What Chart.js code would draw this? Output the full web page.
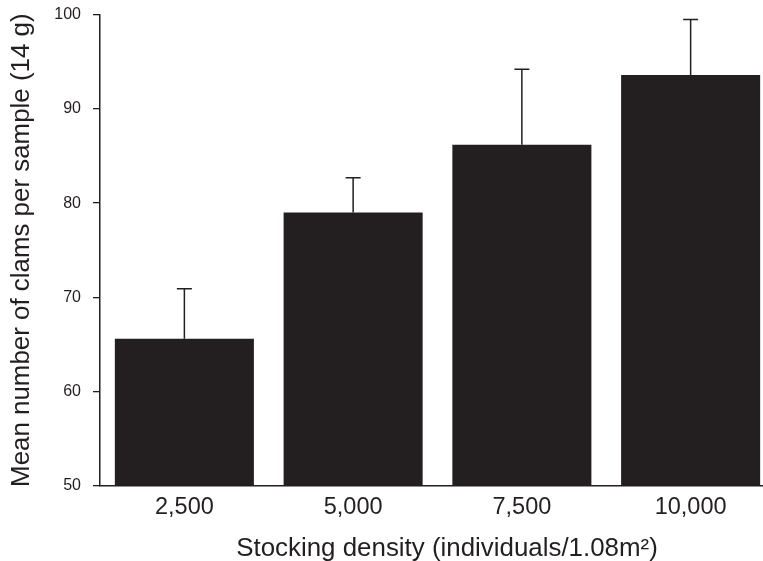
<!DOCTYPE html>
<html>
<head>
<meta charset="utf-8">
<script src="https://cdn.jsdelivr.net/npm/chart.js@4"></script>
<style>
  html, body { margin: 0; padding: 0; width: 763px; height: 561px; overflow: hidden; background: #fff; }
  #wrap { position: absolute; left: 0; top: 0; width: 776px; height: 561px; }
</style>
</head>
<body>
<div id="wrap"><canvas id="chart" width="776" height="561"></canvas></div>
<script>
// Stocking densities (individuals per 1.08 m²)
const densities = ['2,500', '5,000', '7,500', '10,000'];
// Mean number of clams per 14 g sample
const meanClams = [65.6, 79.0, 86.2, 93.6];
// Upper error (added above each mean)
const upperError = [5.3, 3.7, 8.0, 5.9];
// Y axis range and step
const yMin = 50, yMax = 100, yStep = 10;

const INK = '#231f20';
const FAMILY = '"Liberation Sans", Arial, sans-serif';

// Draws one-sided error bars (stem + cap) above each bar
const errorBars = {
  id: 'errorBars',
  afterDatasetsDraw(chart) {
    const ctx = chart.ctx;
    const yScale = chart.scales.y;
    const meta = chart.getDatasetMeta(0);
    ctx.save();
    ctx.strokeStyle = INK;
    ctx.lineWidth = 1.5;
    meta.data.forEach((bar, i) => {
      const x = bar.x;
      const yTop = yScale.getPixelForValue(meanClams[i] + upperError[i]);
      const yBar = yScale.getPixelForValue(meanClams[i]);
      ctx.beginPath();
      ctx.moveTo(x, yBar);
      ctx.lineTo(x, yTop);
      ctx.moveTo(x - 7.5, yTop);
      ctx.lineTo(x + 7.5, yTop);
      ctx.stroke();
    });
    ctx.restore();
  }
};

// Horizontal axis title, drawn under the tick labels
const xTitle = {
  id: 'xTitle',
  afterDraw(chart) {
    const ctx = chart.ctx;
    ctx.save();
    ctx.fillStyle = INK;
    ctx.font = '25.9px ' + FAMILY;
    ctx.textAlign = 'center';
    ctx.textBaseline = 'alphabetic';
    ctx.fillText('Stocking density (individuals/1.08m²)', 447, 555.7);
    ctx.restore();
  }
};

new Chart(document.getElementById('chart'), {
  type: 'bar',
  data: {
    labels: densities,
    datasets: [{
      data: meanClams,
      backgroundColor: INK,
      borderWidth: 0,
      categoryPercentage: 1.0,
      barPercentage: 0.824
    }]
  },
  options: {
    responsive: false,
    animation: false,
    devicePixelRatio: 1,
    layout: { padding: { top: 14.7, right: 1, bottom: 0, left: 0 } },
    plugins: { legend: { display: false }, tooltip: { enabled: false } },
    scales: {
      x: {
        grid: { display: false, drawTicks: false },
        border: { display: true, color: INK, width: 1.5 },
        ticks: {
          color: INK,
          padding: 8,
          font: { family: FAMILY, size: 23.5 }
        },
        afterFit(scale) {
          scale.height = 75.3;
          scale.paddingLeft = 0;
          scale.paddingRight = 0;
        }
      },
      y: {
        min: yMin,
        max: yMax,
        grid: { drawOnChartArea: false, drawTicks: true, tickLength: 7, color: INK, lineWidth: 1.3 },
        border: { display: true, color: INK, width: 1.5 },
        ticks: {
          stepSize: yStep,
          color: INK,
          padding: 12,
          font: { family: FAMILY, size: 16 }
        },
        title: {
          display: true,
          text: 'Mean number of clams per sample (14 g)',
          color: INK,
          padding: { top: 6, bottom: 0 },
          font: { family: FAMILY, size: 25.9, lineHeight: 1.2 }
        },
        afterFit(scale) {
          scale.width = 100;
          scale.paddingTop = 0;
          scale.paddingBottom = 0;
        }
      }
    }
  },
  plugins: [errorBars, xTitle]
});
</script>
</body>
</html>
